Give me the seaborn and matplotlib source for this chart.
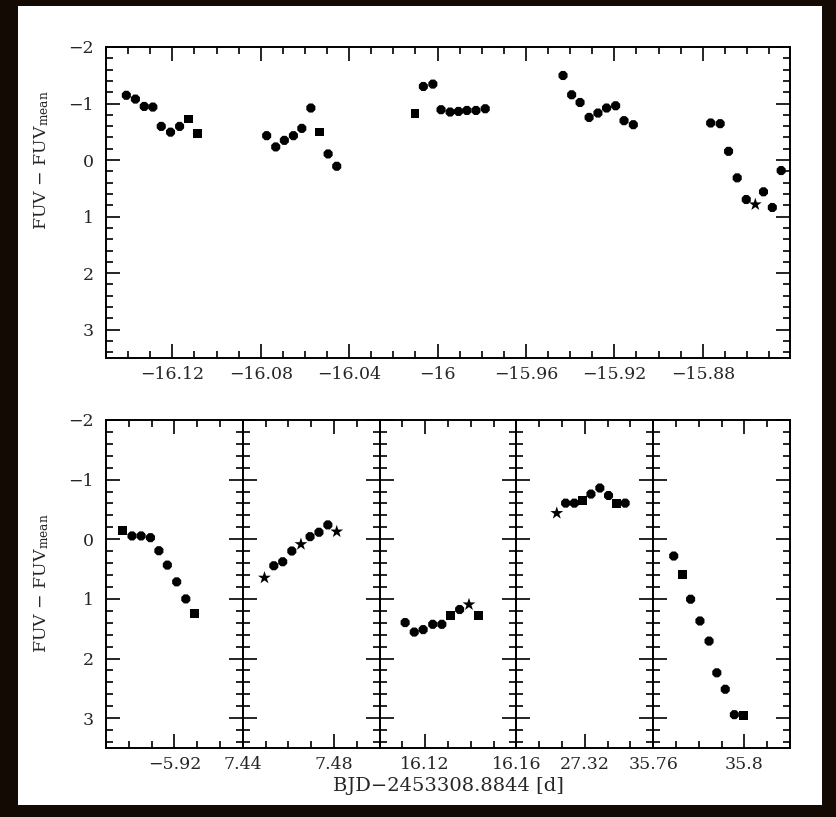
import matplotlib
matplotlib.use("Agg")
import matplotlib.pyplot as plt
import numpy as np
import pandas as pd
import seaborn as sns
from matplotlib.ticker import MultipleLocator, FuncFormatter, NullFormatter
from matplotlib.patches import Rectangle

# ---------------- data ----------------
# upper panel: BJD - 2453308.8844 [d]  and  FUV - FUV_mean [mag]
top_t = [-16.1408, -16.1367, -16.1327, -16.1288, -16.1250, -16.1208, -16.1167, -16.1127, -16.1086,
         -16.0773, -16.0732, -16.0693, -16.0652, -16.0614, -16.0573, -16.0535, -16.0495, -16.0456,
         -16.0102, -16.0064, -16.0021, -15.9984, -15.9943, -15.9905, -15.9867, -15.9826, -15.9784,
         -15.9432, -15.9393, -15.9355, -15.9314, -15.9274, -15.9235, -15.9194, -15.9156, -15.9114,
         -15.8764, -15.8721, -15.8683, -15.8644, -15.8603, -15.8562, -15.8525, -15.8485, -15.8445]
top_m = [-1.146, -1.079, -0.949, -0.938, -0.596, -0.494, -0.596, -0.727, -0.467,
         -0.432, -0.233, -0.349, -0.432, -0.561, -0.921, -0.497, -0.109, 0.109,
         -0.820, -1.302, -1.344, -0.891, -0.850, -0.861, -0.878, -0.878, -0.908,
         -1.496, -1.155, -1.019, -0.755, -0.832, -0.921, -0.961, -0.697, -0.626,
         -0.656, -0.644, -0.155, 0.314, 0.697, 0.785, 0.561, 0.838, 0.185]
top_sym = ["o", "o", "o", "o", "o", "o", "o", "s", "s",
           "o", "o", "o", "o", "o", "o", "s", "o", "o",
           "s", "o", "o", "o", "o", "o", "o", "o", "o",
           "o", "o", "o", "o", "o", "o", "o", "o", "o",
           "o", "o", "o", "o", "o", "*", "o", "o", "o"]

# lower panels (broken time axis)
p1_t = [-5.9426, -5.9386, -5.9346, -5.9305, -5.9268, -5.9231, -5.9190, -5.9150, -5.9113]
p1_m = [-0.145, -0.056, -0.056, -0.027, 0.192, 0.433, 0.714, 1.000, 1.246]
p1_sym = ["s", "o", "o", "o", "o", "o", "o", "o", "s"]

p2_t = [7.4495, 7.4536, 7.4575, 7.4615, 7.4655, 7.4695, 7.4734, 7.4773, 7.4812]
p2_m = [0.646, 0.444, 0.377, 0.197, 0.084, -0.044, -0.118, -0.241, -0.128]
p2_sym = ["*", "o", "o", "o", "*", "o", "o", "o", "*"]

p3_t = [16.1112, 16.1152, 16.1191, 16.1233, 16.1273, 16.1311, 16.1351, 16.1392, 16.1435]
p3_m = [1.397, 1.556, 1.515, 1.426, 1.426, 1.274, 1.178, 1.094, 1.274]
p3_sym = ["o", "o", "o", "o", "o", "s", "o", "*", "s"]

p4_t = [27.3077, 27.3116, 27.3154, 27.3191, 27.3227, 27.3266, 27.3304, 27.3340, 27.3377]
p4_m = [-0.438, -0.606, -0.606, -0.650, -0.758, -0.859, -0.734, -0.606, -0.606]
p4_sym = ["*", "o", "o", "s", "o", "o", "o", "s", "o"]

p5_t = [35.7690, 35.7727, 35.7764, 35.7805, 35.7845, 35.7879, 35.7916, 35.7956, 35.7996]
p5_m = [0.281, 0.589, 1.005, 1.370, 1.707, 2.239, 2.515, 2.941, 2.958]
p5_sym = ["o", "s", "o", "o", "o", "o", "o", "o", "s"]

top_xlim = (-16.15, -15.8405)
bot_xlims = [(-5.95, -5.89), (7.44, 7.50), (16.10, 16.16), (27.29, 27.35), (35.76, 35.82)]
mag_lim = (3.5, -2.0)

xlabel = "BJD\u22122453308.8844 [d]"
ylabel = "FUV \u2212 FUV$_\\mathrm{mean}$"

# ---------------- style ----------------
sns.set_style("ticks")
plt.rcParams["font.family"] = ["DejaVu Serif"]
plt.rcParams["mathtext.fontset"] = "dejavuserif"
plt.rcParams["axes.unicode_minus"] = True
FS = 12.5

W, H = 836, 817
fig = plt.figure(figsize=(W / 100, H / 100), dpi=100)
fig.patch.set_facecolor("#130a04")
fig.add_artist(Rectangle((18 / W, 1 - 805 / H), (822 - 18) / W, (805 - 6) / H,
                         transform=fig.transFigure, facecolor="white",
                         edgecolor="none", zorder=-10))

markers = {"o": "8", "s": "s", "*": "*"}
msizes = {"o": 50, "s": 40, "*": 95}


def fmt(v, pos=None):
    s = ("%.2f" % v).rstrip("0").rstrip(".")
    if s in ("-0", "\u22120"):
        s = "0"
    return s.replace("-", "\u2212")


def style_axes(ax, show_ylabels):
    for sp in ax.spines.values():
        sp.set_linewidth(1.4)
        sp.set_color("black")
        sp.set_visible(True)
    ax.set_facecolor("white")
    ax.yaxis.set_major_locator(MultipleLocator(1))
    ax.yaxis.set_minor_locator(MultipleLocator(0.2))
    ax.xaxis.set_major_locator(MultipleLocator(0.04))
    ax.xaxis.set_minor_locator(MultipleLocator(0.01))
    ax.xaxis.set_major_formatter(FuncFormatter(fmt))
    ax.yaxis.set_major_formatter(FuncFormatter(fmt) if show_ylabels else NullFormatter())
    ax.tick_params(which="both", direction="in", top=True, right=True,
                   bottom=True, left=True, color="black", width=1.2)
    ax.tick_params(which="major", length=10)
    ax.tick_params(which="minor", length=5)
    ax.tick_params(axis="x", which="major", labelsize=FS, pad=6)
    ax.tick_params(axis="y", which="major", labelsize=FS, pad=9)
    ax.set_xlabel("")
    ax.set_ylabel("")


def draw(ax, t, m, sym):
    df = pd.DataFrame({"t": t, "m": m, "sym": sym})
    sns.scatterplot(data=df, x="t", y="m", style="sym", markers=markers,
                    size="sym", sizes=msizes,
                    color="black", linewidth=0, legend=False, ax=ax,
                    zorder=3)


# upper panel
L, R = 106, 790
ax_top = fig.add_axes([L / W, 1 - 358 / H, (R - L) / W, (358 - 47) / H])
draw(ax_top, top_t, top_m, top_sym)
ax_top.set_xlim(*top_xlim)
ax_top.set_ylim(*mag_lim)
style_axes(ax_top, True)

# lower panels
pw = (R - L) / 5
bot_sets = [(p1_t, p1_m, p1_sym), (p2_t, p2_m, p2_sym), (p3_t, p3_m, p3_sym),
            (p4_t, p4_m, p4_sym), (p5_t, p5_m, p5_sym)]
for i, ((t, m, sym), xl) in enumerate(zip(bot_sets, bot_xlims)):
    ax = fig.add_axes([(L + i * pw) / W, 1 - 748 / H, pw / W, (748 - 420) / H])
    draw(ax, t, m, sym)
    ax.set_xlim(*xl)
    ax.set_ylim(*mag_lim)
    style_axes(ax, i == 0)

# axis labels
fig.text(42 / W, 1 - 160 / H, ylabel, rotation=90, ha="center", va="center", fontsize=FS)
fig.text(42 / W, 1 - 583 / H, ylabel, rotation=90, ha="center", va="center", fontsize=FS)
fig.text(448 / W, 1 - 786 / H, xlabel, ha="center", va="center", fontsize=14)

fig.savefig("out.png", dpi=100, facecolor=fig.get_facecolor())
